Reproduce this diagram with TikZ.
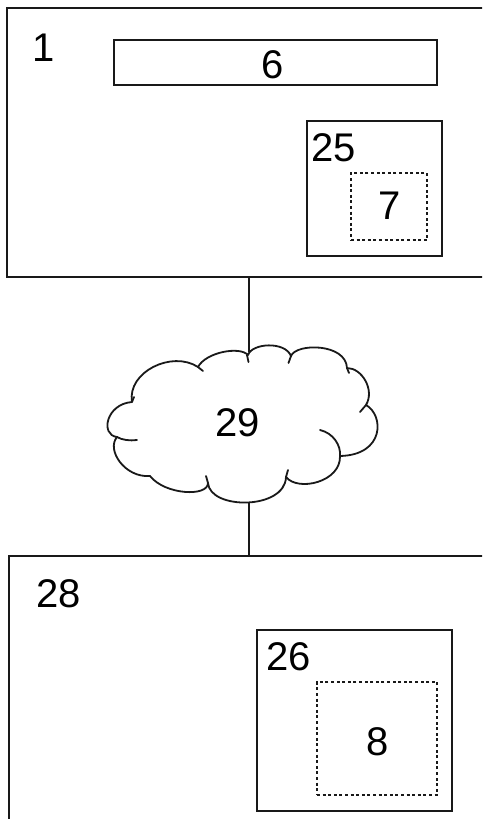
\documentclass[tikz,border=0pt]{standalone}
\usepackage{fontspec}
\setmainfont{Liberation Sans}
\tikzset{
  ln/.style={line width=1.8pt, draw=black!90},
  box/.style={ln, rectangle, inner sep=0pt, outer sep=0pt},
  dbox/.style={rectangle, inner sep=0pt, outer sep=0pt, draw=black!90, line width=1.5pt, dash pattern=on 3pt off 2.6pt},
  lbl/.style={inner sep=0pt, outer sep=0pt, anchor=center, font=\fontsize{40}{48}\selectfont}
}
\begin{document}
\begin{tikzpicture}[x=1pt,y=-1pt]
\useasboundingbox (0,0) rectangle (482,819);
\clip (0,0) rectangle (482,819);
\fill[white] (0,0) rectangle (482,819);
% top device
\node[box, minimum width=488pt, minimum height=269pt] (top) at (251,142.5) {};
\node[box, minimum width=323pt, minimum height=45pt] (b6) at (275.5,62.5) {};
\node[box, minimum width=135pt, minimum height=135pt] (b25) at (374.5,188.5) {};
\node[dbox, minimum width=76pt, minimum height=67pt] (b7) at (389,206.5) {};
\node[lbl] (l1) at (44,48) {1};
\node[lbl] (l6) at (273,64.5) {6};
\node[lbl] (l25) at (334,148) {25};
\node[lbl] (l7) at (390,206) {7};
% bottom device
\node[box, minimum width=486pt, minimum height=274pt] (bot) at (252,693) {};
\node[box, minimum width=195pt, minimum height=181pt] (b26) at (354.5,720.5) {};
\node[dbox, minimum width=120pt, minimum height=113pt] (b8) at (377,738.5) {};
\node[lbl] (l28) at (59,594) {28};
\node[lbl] (l26) at (289,657) {26};
\node[lbl] (l8) at (377.5,742) {8};
% cloud
\draw[ln, line join=round] (198,367) .. controls (206,352) and (240,346) .. (248,355)
 .. controls (252,343) and (285,341) .. (291,356)
 .. controls (296,343) and (346,343) .. (347,368)
 .. controls (362,368) and (375,390) .. (366,405)
 .. controls (384,415) and (385,455) .. (340,456)
 .. controls (341,482) and (298,492) .. (286,477)
 .. controls (285,510) and (210,510) .. (208,483)
 .. controls (208,497) and (165,495) .. (150,476)
 .. controls (125,478) and (106,450) .. (117,437)
 .. controls (100,435) and (106,404) .. (132,402)
 .. controls (127,372) and (172,350) .. cycle;
\draw[ln, line cap=round] (198,367) -- (203,371);
\draw[ln, line cap=round] (247,355) -- (248.5,362);
\draw[ln, line cap=round] (291,356) -- (288.5,363);
\draw[ln, line cap=round] (347,368) -- (349,373);
\draw[ln, line cap=round] (366,405) -- (360,412);
\draw[ln, line cap=round] (320,430) .. controls (333,433) and (341,445) .. (340,456);
\draw[ln, line cap=round] (286,477) -- (288,470);
\draw[ln, line cap=round] (208,483) -- (206,476);
\draw[ln, line cap=round] (117,437) .. controls (122,440) and (130,441) .. (137,440);
\draw[ln, line cap=round] (132,402) -- (134,397);
\node[lbl] (l29) at (238,423) {29};
\coordinate (cloudtop) at (249,352);
\coordinate (cloudbot) at (249,503);
\coordinate (topport) at (249,277);
\coordinate (botport) at (249,556);
% connectors
\draw[ln] (topport) -- (cloudtop);
\draw[ln] (cloudbot) -- (botport);
\end{tikzpicture}
\end{document}
